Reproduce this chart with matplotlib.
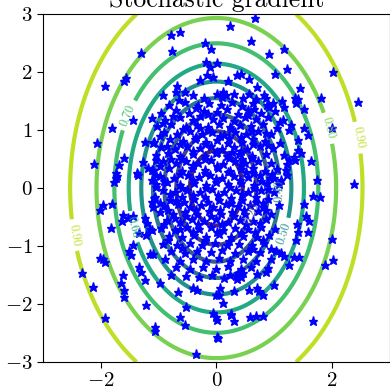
import numpy as np
import matplotlib
matplotlib.use("Agg")
import matplotlib.pyplot as plt
from matplotlib.colors import Normalize

plt.rcParams.update({
    "font.family": "serif",
    "font.serif": ["cmr10"],
    "mathtext.fontset": "cm",
    "axes.formatter.use_mathtext": True,
    "axes.unicode_minus": True,
})

# Contour levels of the loss surface
levels = [0.1, 0.2, 0.3, 0.4, 0.5, 0.6, 0.7, 0.8, 0.9]
x_ticks = [-2, 0, 2]
y_ticks = [-3, -2, -1, 0, 1, 2, 3]

# Sampled points (x, y)
outer_pts = [
    (-1.31, 2.33), (-0.77, 2.37), (-0.79, 2.64), (-0.63, 2.69), (-0.19, 2.51), (-0.09, 2.40),
    (0.23, 2.79), (0.67, 2.93), (0.60, 2.53), (0.92, 2.32), (1.18, 2.40),
    (-0.18, 2.18), (0.01, 2.15), (-0.11, 2.08), (-0.16, 1.95), (-0.06, 1.92), (-0.29, 1.86),
    (0.20, 1.85), (0.35, 1.95), (0.42, 1.97), (0.57, 1.88),
    (-1.93, 1.76), (-1.60, 1.85), (-1.57, 1.89), (-1.81, 1.04), (-2.06, 0.78), (-2.12, 0.41),
    (-1.60, 0.52), (-1.69, 0.39), (-1.73, 0.26), (-1.74, 0.17), (-1.72, 0.21), (-1.77, 0.10),
    (-1.44, 1.17), (-1.24, 0.80), (-1.11, 1.20), (-0.92, 1.60), (-0.68, 1.76), (-0.69, 1.66),
    (-0.55, 1.66), (-1.36, 0.22), (-1.38, 0.26),
    (-1.96, -0.29), (-2.01, -0.38), (-1.81, -0.27), (-1.83, -0.69), (-1.63, -0.56), (-1.53, -0.52),
    (-2.01, -1.20), (-1.96, -1.23), (-1.93, -1.27), (-2.32, -1.46), (-2.13, -1.70), (-1.65, -1.63),
    (-1.59, -1.88), (-1.93, -2.24), (-1.51, -1.08),
    (-1.44, -0.49), (-1.20, -0.61), (-1.15, -0.70), (-1.21, -0.81), (-1.47, -1.16), (-1.15, -1.13),
    (-1.07, -2.47), (0.03, -2.59), (-0.35, -2.86),
    (1.22, 2.05), (1.01, 1.97), (2.02, 2.01), (2.45, 1.49), (1.82, 1.55), (1.45, 1.73),
    (1.37, 1.56), (1.41, 1.53), (1.38, 1.47), (1.52, 1.36), (1.18, 1.40), (1.14, 1.51),
    (2.00, 1.03), (1.51, 1.03), (1.59, 0.91), (1.42, 0.83), (1.42, 0.66), (1.46, 0.60),
    (1.64, 0.47), (1.34, 0.54), (1.37, 0.49), (1.75, 0.14), (2.39, 0.07),
    (0.71, 1.75), (0.57, 1.63), (0.83, 1.60), (0.86, 1.56),
    (1.67, -0.14), (1.80, -0.16), (1.51, -0.28), (2.01, -0.88), (2.02, -1.24), (1.89, -1.33),
    (1.67, -2.30), (1.56, -0.49), (1.60, -0.57), (1.58, -0.76), (1.40, -0.62), (1.41, -0.75),
    (1.38, -0.89), (1.34, -1.19), (1.43, -1.19), (1.25, -1.32), (1.00, -1.67), (0.57, -1.75),
    (0.31, -1.78), (0.11, -1.98), (0.80, -2.21), (0.68, -2.20), (0.59, -2.22), (0.25, -2.17),
    (0.31, -2.30), (0.02, -2.27), (0.02, -2.57),
    (1.18, 0.57), (1.25, 0.49), (1.22, 0.41), (1.20, 0.31), (1.12, 0.14), (1.09, 0.07),
    (1.23, 0.22), (1.00, 0.17), (0.68, 1.53), (0.98, 1.47), (0.92, 1.40), (0.11, 1.66),
    (0.10, 1.57), (0.16, 1.60), (1.26, 1.00), (1.29, 1.09), (1.15, 1.17), (1.11, 1.14),
    (1.18, -1.18), (1.12, -1.12), (1.03, -1.09), (0.94, -1.05), (0.80, -1.84), (0.74, -1.78),
    (0.71, -1.72), (0.89, -1.38), (0.86, -1.44), (0.71, -1.48), (0.42, -1.54), (0.37, -1.47),
    (0.06, -1.72), (0.04, -1.84),
    (-1.62, -0.47), (-1.24, -0.52), (-1.12, -0.72), (-1.33, -0.78), (-1.44, -0.98), (-1.10, -1.13),
    (-1.33, -1.36), (-1.30, -1.44), (-1.62, -1.50), (-1.59, -1.76), (-1.24, -1.59), (-0.98, -1.64),
    (-0.78, -1.50), (-0.66, -1.79), (-0.52, -2.05), (-1.21, -2.02), (-0.63, -2.22), (-1.07, -2.39),
    (-0.55, -2.36), (-0.34, -1.76), (-0.40, -1.73), (0.00, -1.84), (-0.06, -2.16), (0.00, -2.22),
    (0.26, -2.19), (0.35, -1.56), (0.47, -1.47), (0.23, -1.50),
    (-1.27, 0.45), (-1.18, 0.34), (-1.10, 0.31), (-1.04, 0.48), (-1.04, 0.22), (-1.12, 0.14),
    (-1.04, 0.02), (-1.07, -0.15), (-1.12, -0.24), (-1.10, -0.32), (-0.92, 1.12), (-1.10, 0.77),
]

core_pts = [
    (-0.40, 1.60), (-0.21, 1.55), (0.31, 1.62), (0.47, 1.56), (0.02, 1.63),
    (-0.82, 1.43), (-0.55, 1.48), (-0.31, 1.42), (-0.12, 1.47), (0.08, 1.44), (0.27, 1.49),
    (0.45, 1.41), (0.63, 1.46), (0.88, 1.43),
    (-0.95, 1.30), (-0.70, 1.35), (-0.48, 1.29), (-0.22, 1.33), (0.02, 1.31), (0.18, 1.36),
    (0.38, 1.28), (0.55, 1.34), (0.77, 1.30), (1.02, 1.33),
    (-0.88, 1.18), (-0.62, 1.22), (-0.40, 1.17), (-0.28, 1.24), (-0.05, 1.19), (0.12, 1.21),
    (0.31, 1.16), (0.49, 1.23), (0.68, 1.19), (0.90, 1.22),
    (-1.02, 1.07), (-0.78, 1.10), (-0.53, 1.05), (-0.33, 1.09), (-0.15, 1.06), (0.05, 1.11),
    (0.24, 1.05), (0.41, 1.09), (0.60, 1.07), (0.81, 1.10), (1.05, 1.04),
    (-0.90, 0.97), (-0.68, 0.93), (-0.45, 0.98), (-0.24, 0.94), (-0.08, 0.96), (0.14, 0.92),
    (0.33, 0.97), (0.52, 0.94), (0.72, 0.98), (0.95, 0.93),
    (-1.08, 0.80), (-0.80, 0.84), (-0.58, 0.81), (-0.37, 0.85), (-0.17, 0.79), (0.02, 0.83),
    (0.22, 0.86), (0.44, 0.80), (0.63, 0.84), (0.85, 0.81), (1.10, 0.78),
    (-0.95, 0.71), (-0.72, 0.68), (-0.50, 0.73), (-0.29, 0.69), (-0.10, 0.72), (0.10, 0.67),
    (0.30, 0.71), (0.53, 0.68), (0.76, 0.72), (0.98, 0.69),
    (-1.05, 0.57), (-0.84, 0.60), (-0.63, 0.55), (-0.40, 0.59), (-0.20, 0.56), (0.00, 0.60),
    (0.19, 0.55), (0.40, 0.58), (0.61, 0.56), (0.86, 0.59),
    (-0.93, 0.46), (-0.70, 0.43), (-0.52, 0.47), (-0.31, 0.44), (-0.09, 0.48), (0.12, 0.42),
    (0.33, 0.46), (0.50, 0.43), (0.72, 0.47), (0.95, 0.44),
    (-1.12, 0.31), (-0.82, 0.34), (-0.60, 0.30), (-0.42, 0.35), (-0.20, 0.32), (0.03, 0.34),
    (0.24, 0.29), (0.43, 0.33), (0.64, 0.35), (0.85, 0.30), (1.05, 0.33),
    (-0.97, 0.21), (-0.73, 0.18), (-0.49, 0.22), (-0.30, 0.19), (-0.11, 0.23), (0.09, 0.17),
    (0.31, 0.21), (0.54, 0.19), (0.76, 0.22), (0.93, 0.18),
    (-1.05, 0.07), (-0.85, 0.10), (-0.62, 0.06), (-0.39, 0.09), (-0.18, 0.05), (0.00, 0.10),
    (0.20, 0.07), (0.42, 0.09), (0.66, 0.05), (0.87, 0.08),
    (-0.93, -0.04), (-0.71, -0.07), (-0.51, -0.03), (-0.28, -0.06), (-0.08, -0.02), (0.13, -0.07),
    (0.34, -0.04), (0.55, -0.06), (0.78, -0.03), (1.00, -0.07),
    (-1.08, -0.17), (-0.80, -0.20), (-0.59, -0.16), (-0.38, -0.19), (-0.19, -0.15), (0.04, -0.20),
    (0.25, -0.17), (0.45, -0.21), (0.68, -0.16), (0.90, -0.19),
    (-0.90, -0.31), (-0.67, -0.28), (-0.46, -0.33), (-0.26, -0.29), (-0.05, -0.32), (0.16, -0.27),
    (0.37, -0.31), (0.59, -0.29), (0.81, -0.33), (1.08, -0.30),
    (-0.98, -0.42), (-0.75, -0.45), (-0.55, -0.41), (-0.33, -0.44), (-0.13, -0.40), (0.08, -0.45),
    (0.28, -0.42), (0.50, -0.44), (0.72, -0.40), (0.94, -0.45),
    (-0.85, -0.55), (-0.62, -0.58), (-0.42, -0.54), (-0.21, -0.57), (0.00, -0.53), (0.20, -0.58),
    (0.41, -0.55), (0.63, -0.57), (0.86, -0.54),
    (-0.95, -0.69), (-0.72, -0.72), (-0.50, -0.68), (-0.30, -0.71), (-0.09, -0.67), (0.12, -0.72),
    (0.33, -0.69), (0.55, -0.71), (0.78, -0.67), (1.02, -0.70),
    (-0.82, -0.82), (-0.60, -0.85), (-0.38, -0.81), (-0.17, -0.84), (0.05, -0.80), (0.26, -0.85),
    (0.47, -0.82), (0.70, -0.84), (0.92, -0.81),
    (-0.92, -0.96), (-0.68, -0.99), (-0.45, -0.95), (-0.25, -0.98), (-0.03, -0.94), (0.18, -0.99),
    (0.40, -0.96), (0.61, -0.98), (0.83, -0.95),
    (-0.78, -1.09), (-0.55, -1.12), (-0.33, -1.08), (-0.10, -1.11), (0.10, -1.07), (0.32, -1.12),
    (0.54, -1.09), (0.75, -1.11),
    (-0.88, -1.23), (-0.62, -1.26), (-0.40, -1.22), (-0.18, -1.25), (0.04, -1.21), (0.24, -1.26),
    (0.47, -1.23), (0.68, -1.25), (0.95, -1.22),
    (-0.70, -1.37), (-0.45, -1.40), (-0.23, -1.36), (0.00, -1.39), (0.20, -1.35), (0.43, -1.40),
    (0.60, -1.37),
    (-0.52, -1.51), (-0.30, -1.54), (-0.08, -1.50), (0.14, -1.55), (0.34, -1.52),
    (-0.58, 1.02), (-0.36, 0.88), (-0.14, 1.00), (0.07, 0.90), (0.26, 1.01), (0.43, 0.88), (0.62, 0.99),
    (-0.62, 0.76), (-0.40, 0.64), (-0.19, 0.76), (0.01, 0.63), (0.21, 0.77), (0.42, 0.64), (0.64, 0.76),
    (-0.60, 0.50), (-0.41, 0.39), (-0.20, 0.50), (0.02, 0.38), (0.22, 0.51), (0.42, 0.40), (0.62, 0.51),
    (-0.62, 0.25), (-0.40, 0.14), (-0.20, 0.26), (0.00, 0.15), (0.20, 0.27), (0.41, 0.14), (0.64, 0.26),
    (-0.60, 0.00), (-0.40, -0.12), (-0.18, 0.00), (0.03, -0.12), (0.23, 0.01), (0.45, -0.11), (0.66, 0.00),
    (-0.56, -0.24), (-0.36, -0.37), (-0.15, -0.24), (0.06, -0.37), (0.26, -0.25), (0.48, -0.37), (0.69, -0.24),
    (-0.52, -0.49), (-0.31, -0.62), (-0.10, -0.49), (0.10, -0.62), (0.31, -0.49), (0.52, -0.62),
    (-0.41, -0.76), (-0.20, -0.90), (0.01, -0.76), (0.22, -0.91), (0.43, -0.77),
    (-0.75, 1.24), (-0.15, 1.27), (0.54, 1.26),
    (-0.97, 0.90), (-0.28, 1.03), (0.86, 0.95),
    (-0.85, 0.72), (0.27, 0.62), (0.90, 0.74),
    (-0.78, 0.50), (0.45, 0.50), (-0.98, 0.38),
    (0.52, 0.28), (0.96, 0.25),
    (-0.90, 0.13), (0.77, 0.13),
    (-0.81, -0.10), (0.90, -0.02),
    (-0.70, -0.23), (0.80, -0.25), (-0.98, -0.25),
    (-0.83, -0.37), (0.86, -0.38),
    (-0.72, -0.52), (-0.90, -0.62), (0.75, -0.60),
    (-0.62, -0.70), (0.67, -0.75), (-0.84, -0.89),
    (0.80, -0.90), (-0.60, -1.04), (0.63, -1.05),
    (-0.35, 1.38), (0.65, 1.36), (-0.65, 1.52),
]

pts = np.array(outer_pts + core_pts)
sample_x = pts[:, 0]
sample_y = pts[:, 1]

# Loss surface: elongated bowl, saturating towards 1
gx = np.linspace(-3, 3, 400)
gy = np.linspace(-3, 3, 400)
GX, GY = np.meshgrid(gx, gy)
Q = GX ** 2 + GY ** 2 / 2.0
Z = 1.0 - np.exp(-(Q ** 0.9) / 2.31)

fig = plt.figure(figsize=(3.9, 3.9), dpi=100)
ax = fig.add_axes([0.1103, 0.0718, 0.8887, 0.892])

cs = ax.contour(GX, GY, Z, levels=levels, cmap="viridis",
                norm=Normalize(vmin=0.0, vmax=1.0), linewidths=3.0)
label_spots = [(-2.45, -0.81), (2.51, 0.88), (1.93, 1.03), (-1.53, 1.26),
               (-1.36, -0.65), (1.17, -0.78), (1.05, -0.05), (0.72, -0.47)]
ax.clabel(cs, inline=True, fontsize=9, fmt="%1.2f", manual=label_spots)

ax.plot(sample_x, sample_y, "b*", markersize=6.8, zorder=3)

ax.set_xlim(-3, 3)
ax.set_ylim(-3, 3)
ax.set_xticks(x_ticks)
ax.set_yticks(y_ticks)
ax.tick_params(labelsize=15, direction="out", length=4)
ax.set_title("Stochastic gradient", fontsize=18.5, pad=5)

fig.savefig("out.png", dpi=100)
